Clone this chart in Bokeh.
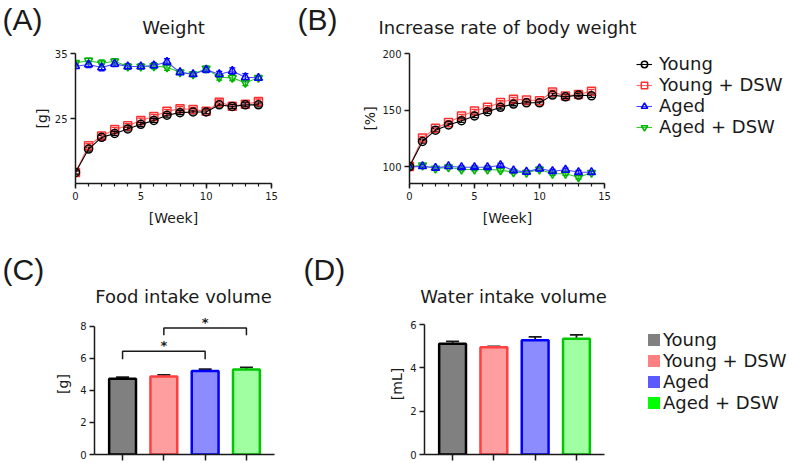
from bokeh.plotting import figure
from bokeh.layouts import column, row
from bokeh.models import (Range1d, FixedTicker, Label, Legend, LegendItem,
                          Whisker, TeeHead, ColumnDataSource)
from bokeh.core.properties import value
from bokeh.embed import file_html
from bokeh.resources import INLINE

# ---------------- data ----------------
groups = ["Young", "Young + DSW", "Aged", "Aged + DSW"]
weeks = [0, 1, 2, 3, 4, 5, 6, 7, 8, 9, 10, 11, 12, 13, 14]
week_ticks = [0, 5, 10, 15]

weight_young = [16.7, 20.3, 22.1, 22.7, 23.4, 24.1, 24.7, 25.5, 25.9, 26.0, 26.0, 27.1, 26.85, 27.1, 27.1]
weight_young_dsw = [16.7, 20.8, 22.3, 23.3, 23.9, 24.7, 25.3, 26.1, 26.5, 26.4, 26.1, 27.5, 26.9, 27.2, 27.6]
weight_aged = [33.05, 33.3, 32.85, 33.4, 33.0, 33.0, 33.15, 33.7, 32.1, 31.8, 32.5, 31.8, 32.3, 31.35, 31.25]
weight_aged_dsw = [33.55, 33.9, 33.5, 33.8, 33.0, 33.0, 33.05, 32.9, 32.1, 31.8, 32.7, 31.35, 31.25, 30.5, 31.25]
weight_err_young = [0.25, 0.3, 0.3, 0.3, 0.3, 0.3, 0.3, 0.3, 0.3, 0.3, 0.3, 0.3, 0.3, 0.3, 0.3]
weight_err_young_dsw = [0.25, 0.35, 0.3, 0.35, 0.3, 0.35, 0.35, 0.3, 0.35, 0.3, 0.3, 0.35, 0.3, 0.3, 0.4]
weight_err_aged = [0.35, 0.45, 0.5, 0.4, 0.4, 0.35, 0.4, 0.5, 0.3, 0.3, 0.45, 0.45, 0.5, 0.55, 0.3]
weight_err_aged_dsw = [0.3, 0.4, 0.5, 0.4, 0.35, 0.35, 0.4, 0.5, 0.3, 0.35, 0.35, 0.45, 0.4, 0.45, 0.3]

rate_young = [100, 122.2, 132.2, 136.8, 140.6, 144.7, 148.5, 152.4, 155.3, 156.4, 156.4, 163.2, 161.7, 163.2, 162.6]
rate_young_dsw = [100, 125.2, 133.9, 138.9, 144.7, 149.1, 152.4, 156.7, 159.6, 158.8, 158.2, 166.0, 162.3, 163.8, 166.7]
rate_aged = [99.5, 100.3, 98.8, 100.3, 99.4, 99.4, 99.4, 101.2, 96.5, 95.3, 98.2, 95.9, 97.1, 95.0, 95.0]
rate_aged_dsw = [100, 101.0, 98.2, 99.4, 97.4, 97.4, 97.4, 96.8, 95.0, 94.5, 97.4, 93.6, 93.6, 90.6, 94.5]
rate_err_young = [0.5, 1.5, 1.5, 1.5, 1.5, 1.5, 1.5, 1.5, 1.5, 1.5, 1.5, 1.5, 1.5, 1.5, 1.5]
rate_err_young_dsw = [0.5, 1.5, 1.5, 1.5, 1.5, 1.5, 1.5, 1.5, 1.5, 1.5, 1.5, 1.5, 1.5, 1.5, 1.5]
rate_err_aged = [0.5, 1.2, 1.2, 1.2, 1.2, 1.2, 1.2, 1.5, 1.2, 1.2, 1.5, 1.5, 1.5, 1.6, 1.2]
rate_err_aged_dsw = [0.5, 1.2, 1.2, 1.2, 1.2, 1.2, 1.2, 1.5, 1.2, 1.2, 1.3, 1.5, 1.5, 1.6, 1.2]

bar_x = [1, 2, 3, 4]
food_mean = [4.73, 4.87, 5.22, 5.31]
food_err = [0.11, 0.11, 0.12, 0.14]
water_mean = [5.11, 4.95, 5.27, 5.34]
water_err = [0.11, 0.04, 0.16, 0.18]

# significance brackets (panel C)
sig_x1 = [1, 2]
sig_x2 = [3, 4]
sig_top = [6.45, 7.9]
sig_leg = [5.95, 7.45]
sig_star_y = [6.8, 8.27]
sig_text = ["*", "*"]

panel_letters = ["(A)", "(B)", "(C)", "(D)"]
panel_titles = ["Weight", "Increase rate of body weight", "Food intake volume", "Water intake volume"]
week_label = "[Week]"

# ---------------- styles ----------------
FONT = "DejaVu Sans"
LETTER_FONT = "Liberation Sans"
TXT = "#1a1a1a"
line_colors = ["#000000", "#ff6a6a", "#4a4aff", "#33cc33"]
marker_colors = ["#000000", "#ff3030", "#0000ff", "#00b400"]
markers = ["circle", "square", "triangle", "inverted_triangle"]
bar_fill = ["#808080", "#ff9e9e", "#8c8cff", "#a0ffa0"]
bar_line = ["#000000", "#ff4040", "#0000ff", "#00c800"]
legend_fill = ["#808080", "#ff8080", "#5a5aff", "#00ff00"]
W = 789


def style(p):
    p.outline_line_color = None
    p.xgrid.visible = False
    p.ygrid.visible = False
    p.background_fill_color = "white"
    p.border_fill_color = "white"
    for ax in p.axis:
        ax.axis_line_color = TXT
        ax.axis_line_width = 1.5
        ax.major_tick_line_color = TXT
        ax.major_tick_line_width = 1.5
        ax.major_tick_out = 5
        ax.major_tick_in = 0
        ax.minor_tick_line_color = None
        ax.major_label_text_font = FONT
        ax.major_label_text_font_size = "10px"
        ax.major_label_text_color = TXT
        ax.major_label_standoff = 3
        ax.axis_label_text_font = FONT
        ax.axis_label_text_font_size = "14px"
        ax.axis_label_text_font_style = "normal"
        ax.axis_label_text_color = TXT


def header(height, texts):
    """texts: (text, x, y_from_top, size, align, baseline, font)"""
    h = figure(width=W, height=height, output_backend="svg", toolbar_location=None,
               x_axis_location=None, y_axis_location=None,
               x_range=Range1d(0, W), y_range=Range1d(0, height),
               min_border_left=0, min_border_right=0, min_border_top=0, min_border_bottom=0)
    h.outline_line_color = None
    h.xgrid.visible = False
    h.ygrid.visible = False
    for text, x, y, size, align, baseline, font in texts:
        h.add_layout(Label(x=x, y=height - y, x_units="screen", y_units="screen", text=text,
                           text_font=font, text_font_size=size, text_align=align,
                           text_baseline=baseline, text_color=TXT))
    return h


def make_legend(items, loc, gw, gh, lh, standoff):
    return Legend(items=items, location=loc, padding=0, margin=0, spacing=0,
                  glyph_width=gw, glyph_height=gh, label_height=lh, label_standoff=standoff,
                  label_text_font=FONT, label_text_font_size="18px", label_text_color=TXT,
                  border_line_color=None, background_fill_alpha=0)


def line_panel(width, height, borders, xr, yr, yticks, ylabel, series, errs, standoff):
    p = figure(width=width, height=height, output_backend="svg", toolbar_location=None,
               x_range=Range1d(*xr), y_range=Range1d(*yr),
               min_border_left=borders[0], min_border_right=borders[1],
               min_border_top=borders[2], min_border_bottom=borders[3])
    style(p)
    p.xaxis.ticker = FixedTicker(ticks=week_ticks, minor_ticks=weeks + [15])
    p.xaxis.minor_tick_line_color = TXT
    p.xaxis.minor_tick_line_width = 1.2
    p.xaxis.minor_tick_out = 3
    p.xaxis.minor_tick_in = 0
    p.xaxis.bounds = (0, 15)
    p.yaxis.ticker = FixedTicker(ticks=yticks)
    p.yaxis.axis_label = ylabel
    p.yaxis.axis_label_standoff = standoff
    rmap = {}
    for i in [3, 2, 1, 0]:
        vals = series[i]
        err = errs[i]
        src = ColumnDataSource(dict(x=weeks, y=vals,
                                    lo=[v - e for v, e in zip(vals, err)],
                                    hi=[v + e for v, e in zip(vals, err)]))
        ln = p.line("x", "y", source=src, line_color=line_colors[i], line_width=1.1)
        p.add_layout(Whisker(source=src, base="x", lower="lo", upper="hi", dimension="height",
                             line_color=marker_colors[i], line_width=1.3,
                             upper_head=TeeHead(size=6, line_color=marker_colors[i], line_width=1.3),
                             lower_head=TeeHead(size=6, line_color=marker_colors[i], line_width=1.3)))
        sc = p.scatter("x", "y", source=src, marker=markers[i], size=8,
                       line_color=marker_colors[i], line_width=1.5, fill_color=None)
        rmap[i] = [ln, sc]
    return p, rmap


# ---------------- row 1 ----------------
h1 = header(45, [
    (panel_letters[0], 2, 2, "30px", "left", "top", LETTER_FONT),
    (panel_letters[1], 297, 2, "30px", "left", "top", LETTER_FONT),
    (panel_titles[0], 173, 27, "18px", "center", "middle", FONT),
    (panel_titles[1], 507, 27, "18px", "center", "middle", FONT),
])

pA, rA = line_panel(293, 160, (75, 22, 8, 22), (0, 15), (15, 35), [25, 35], "[g]",
                    [weight_young, weight_young_dsw, weight_aged, weight_aged_dsw],
                    [weight_err_young, weight_err_young_dsw, weight_err_aged, weight_err_aged_dsw], 2)

pB, rB = line_panel(496, 160, (116, 0, 8, 22), (0, 29.23), (85, 200), [100, 150, 200], "[%]",
                    [rate_young, rate_young_dsw, rate_aged, rate_aged_dsw],
                    [rate_err_young, rate_err_young_dsw, rate_err_aged, rate_err_aged_dsw], 1)
legB = make_legend([LegendItem(label=groups[i], renderers=rB[i]) for i in range(4)],
                   (227, 46), 16, 20, 20, 7)
pB.add_layout(legB)


# ---------------- row 2 ----------------
def bar_panel(width, height, borders, xr, yr, ybounds, yticks, ylabel, means, errs, standoff):
    p = figure(width=width, height=height, output_backend="svg", toolbar_location=None,
               x_range=Range1d(*xr), y_range=Range1d(*yr),
               min_border_left=borders[0], min_border_right=borders[1],
               min_border_top=borders[2], min_border_bottom=borders[3])
    style(p)
    p.xaxis.ticker = FixedTicker(ticks=bar_x)
    p.xaxis.major_label_overrides = {x: "" for x in bar_x}
    p.xaxis.major_label_text_font_size = "0px"
    p.xaxis.major_label_standoff = 0
    p.xaxis.major_tick_out = 6
    p.xaxis.bounds = (0.32, 4.68)
    p.yaxis.ticker = FixedTicker(ticks=yticks)
    p.yaxis.bounds = ybounds
    p.yaxis.axis_label = ylabel
    p.yaxis.axis_label_standoff = standoff
    src = ColumnDataSource(dict(x=bar_x, top=means, fill=bar_fill, line=bar_line,
                                lo=[m - e for m, e in zip(means, errs)],
                                hi=[m + e for m, e in zip(means, errs)]))
    p.vbar(x="x", top="top", bottom=0, width=0.65, source=src, fill_color="fill",
           line_color="line", line_width=2.5)
    p.add_layout(Whisker(source=src, base="x", lower="lo", upper="hi", dimension="height",
                         line_color=TXT, line_width=1.8,
                         upper_head=TeeHead(size=13, line_color=TXT, line_width=1.8),
                         lower_head=TeeHead(size=13, line_color=TXT, line_width=1.8)))
    return p


# header 2 also carries the two "[Week]" axis titles of the panels above
h2 = header(103, [
    (week_label, 173, 12, "14px", "center", "middle", FONT),
    (week_label, 507, 12, "14px", "center", "middle", FONT),
    (panel_letters[2], 2, 47, "30px", "left", "top", LETTER_FONT),
    (panel_letters[3], 303, 47, "30px", "left", "top", LETTER_FONT),
    (panel_titles[2], 183, 91, "18px", "center", "middle", FONT),
    (panel_titles[3], 513, 91, "18px", "center", "middle", FONT),
])

# frames of a row are aligned: top 313, bottom 454 for both panels
pC = bar_panel(293, 155, (94, 19, 5, 9), (0.32, 4.68), (0, 8.81), (0, 8), [0, 2, 4, 6, 8], "[g]",
               food_mean, food_err, 6)
pC.multi_line(xs=[[a, a, b, b] for a, b in zip(sig_x1, sig_x2)],
              ys=[[l, t, t, l] for t, l in zip(sig_top, sig_leg)],
              line_color=TXT, line_width=1.5)
pC.text(x=[(a + b) / 2 for a, b in zip(sig_x1, sig_x2)], y=sig_star_y, text=sig_text,
        text_font=value(FONT), text_font_size="13px", text_font_style="bold",
        text_align="center", text_baseline="middle", text_color=TXT)

pD = bar_panel(496, 155, (131, 0, 5, 9), (0.32, 9.16), (0, 6.51), (0, 6), [0, 2, 4, 6], "[mL]",
               water_mean, water_err, 2)
# zero-width bars that only carry the legend colours
leg_r = [pD.vbar(x=[bar_x[i]], top=[water_mean[i]], width=0, fill_color=legend_fill[i],
                 line_color=None) for i in range(4)]
legD = make_legend([LegendItem(label=groups[i], renderers=[leg_r[i]]) for i in range(4)],
                   (222, 41), 15, 15, 21, 2)
pD.add_layout(legD)

layout = column(h1, row(pA, pB), h2, row(pC, pD))
open("out.html", "w").write(file_html(layout, INLINE))
